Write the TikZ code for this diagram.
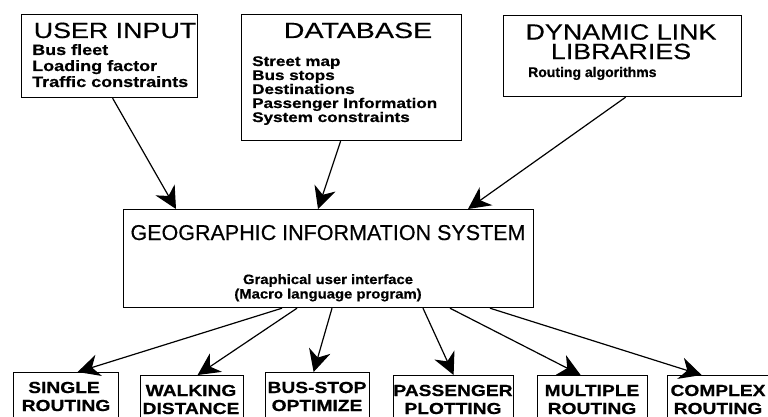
\documentclass[tikz,border=0pt]{standalone}
\usepackage{fontspec}
\setmainfont{Liberation Sans}
\usetikzlibrary{arrows.meta}
% block headings (stretched regular sans, slightly thickened)
\newfontfamily\hdfont[FakeStretch=1.22,FakeBold=0.4]{Liberation Sans}
\newfontfamily\dbhfont[FakeStretch=1.3,FakeBold=0.4]{Liberation Sans}
\newfontfamily\gisfont[FakeBold=0.4]{Liberation Sans}
% list entries (heavy bold sans)
\newfontfamily\uifont[FakeStretch=1.2,FakeBold=0.6]{Liberation Sans}
\newfontfamily\dbfont[FakeStretch=1.22,FakeBold=0.6]{Liberation Sans}
\newfontfamily\dllfont[FakeBold=0.6]{Liberation Sans}
\newfontfamily\guifont[FakeStretch=1.1,FakeBold=0.6]{Liberation Sans}
\newfontfamily\modfont[FakeStretch=1.2,FakeBold=0.6]{Liberation Sans}
\begin{document}
\begin{tikzpicture}[x=1pt,y=-1pt,
  box/.style={draw, line width=1.2pt, inner sep=0pt, anchor=north west},
  hd/.style={inner sep=0pt, anchor=base, font=\hdfont\fontsize{22}{22}\selectfont},
  uil/.style={inner sep=0pt, anchor=base west, font=\uifont\bfseries\fontsize{15}{15}\selectfont},
  dbl/.style={inner sep=0pt, anchor=base west, font=\dbfont\bfseries\fontsize{14}{14}\selectfont},
  dlll/.style={inner sep=0pt, anchor=base west, font=\dllfont\bfseries\fontsize{14}{14}\selectfont},
  guil/.style={inner sep=0pt, anchor=base, font=\guifont\bfseries\fontsize{13.5}{13.5}\selectfont},
  modl/.style={inner sep=0pt, anchor=base, font=\modfont\bfseries\fontsize{16}{16}\selectfont},
  flow/.style={line width=1.2pt, -{Stealth[length=22pt,width=22pt,inset=7pt]}}]
\useasboundingbox (0,0) rectangle (768,417);
\clip (0,0) rectangle (768,417);
\fill[white] (0,0) rectangle (768,417);

% ---- input blocks ----
\node[box, minimum width=176pt, minimum height=83pt] (ui) at (21,14) {};
\node[hd] (uih) at (115,38) {USER INPUT};
\node[uil] (ui1) at (32,55) {Bus fleet};
\node[uil] (ui2) at (32,71) {Loading factor};
\node[uil] (ui3) at (32,87) {Traffic constraints};

\node[box, minimum width=220pt, minimum height=126pt] (db) at (241,14) {};
\node[inner sep=0pt, anchor=base, font=\dbhfont\fontsize{22}{22}\selectfont] (dbh) at (358,38) {DATABASE};
\node[dbl] (db1) at (252,66) {Street map};
\node[dbl] (db2) at (252,80) {Bus stops};
\node[dbl] (db3) at (252,94) {Destinations};
\node[dbl] (db4) at (252,108) {Passenger Information};
\node[dbl] (db5) at (252,122) {System constraints};

\node[box, minimum width=238pt, minimum height=81pt] (dll) at (503,15) {};
\node[inner sep=0pt, anchor=north, align=center,
      font=\hdfont\fontsize{22}{19.5}\selectfont] (dllh) at (621,24) {DYNAMIC LINK\\LIBRARIES};
\node[dlll] (dll1) at (528,77) {Routing algorithms};

% ---- central block ----
\node[box, minimum width=410pt, minimum height=98pt] (gis) at (123,209) {};
\node[inner sep=0pt, anchor=base, font=\gisfont\fontsize{21.5}{21.5}\selectfont] (gish) at (328,240) {GEOGRAPHIC INFORMATION SYSTEM};
\node[guil] (gui1) at (328,284) {Graphical user interface};
\node[guil] (gui2) at (328,298.5) {(Macro language program)};

% ---- output modules ----
\node[box, minimum width=105pt, minimum height=53pt] (m1) at (13,372) {};
\node[modl] (m1a) at (64,393) {SINGLE};
\node[modl] (m1b) at (66,411) {ROUTING};
\node[box, minimum width=103pt, minimum height=50pt] (m2) at (140,375) {};
\node[modl] (m2a) at (191,396) {WALKING};
\node[modl] (m2b) at (191,414) {DISTANCE};
\node[box, minimum width=104pt, minimum height=53pt] (m3) at (265,372) {};
\node[modl] (m3a) at (317,393) {BUS-STOP};
\node[modl] (m3b) at (317,411) {OPTIMIZE};
\node[box, minimum width=120pt, minimum height=50pt] (m4) at (393,375) {};
\node[modl] (m4a) at (453,396) {PASSENGER};
\node[modl] (m4b) at (453,414) {PLOTTING};
\node[box, minimum width=110pt, minimum height=50pt] (m5) at (537,375) {};
\node[modl] (m5a) at (592,396) {MULTIPLE};
\node[modl] (m5b) at (592,414) {ROUTING};
\node[box, minimum width=110pt, minimum height=50pt] (m6) at (667,375) {};
\node[modl] (m6a) at (718,396) {COMPLEX};
\node[modl] (m6b) at (718,414) {ROUTING};

% ---- data flow into the GIS ----
\draw[flow] ([xshift=3pt]ui.south) -- ([xshift=53pt]gis.north west);
\draw[flow] ([xshift=-11pt]db.south) -- ([xshift=195pt]gis.north west);
\draw[flow] ([xshift=3pt]dll.south) -- ([xshift=345pt]gis.north west);

% ---- GIS to the application modules ----
\draw[flow] ([xshift=159pt]gis.south west) -- ([xshift=11.5pt]m1.north);
\draw[flow] ([xshift=174pt]gis.south west) -- ([xshift=5.5pt]m2.north);
\draw[flow] ([xshift=209pt]gis.south west) -- ([xshift=-4pt]m3.north);
\draw[flow] ([xshift=300pt]gis.south west) -- (m4.north);
\draw[flow] ([xshift=327pt]gis.south west) -- ([xshift=-12pt]m5.north);
\draw[flow] ([xshift=367pt]gis.south west) -- ([xshift=-21pt]m6.north);
\end{tikzpicture}
\end{document}
